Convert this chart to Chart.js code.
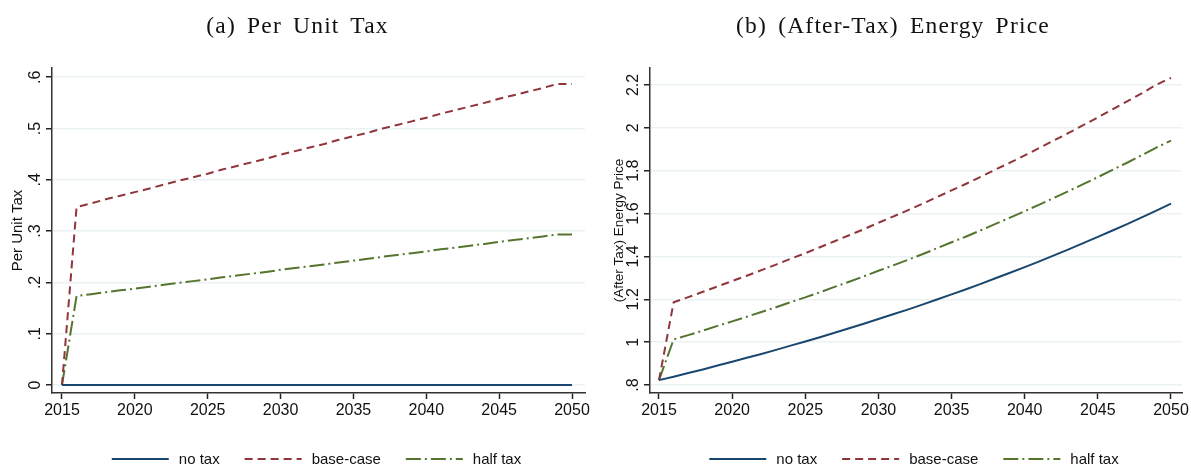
<!DOCTYPE html>
<html>
<head>
<meta charset="utf-8">
<script src="https://cdn.jsdelivr.net/npm/chart.js@4.4.1/dist/chart.umd.min.js"></script>
<style>
body{margin:0;background:#fff;width:1191px;height:468px;overflow:hidden;position:relative}
.panel{position:absolute;top:0;height:468px}
.title{position:absolute;top:12px;left:0;right:0;text-align:center;font-family:"Liberation Serif","DejaVu Serif",serif;font-size:23.5px;letter-spacing:1.2px;word-spacing:4px;color:#111;white-space:nowrap}
</style>
</head>
<body>
<div class="panel" style="left:0;width:595px"><canvas id="taxChart" width="595" height="468"></canvas><div class="title">(a) Per Unit Tax</div></div>
<div class="panel" style="left:595px;width:596px"><canvas id="priceChart" width="596" height="468"></canvas><div class="title">(b) (After-Tax) Energy Price</div></div>
<script>
// years on the x axis
const years = [2015,2016,2017,2018,2019,2020,2021,2022,2023,2024,2025,2026,2027,2028,2029,2030,2031,2032,2033,2034,2035,2036,2037,2038,2039,2040,2041,2042,2043,2044,2045,2046,2047,2048,2049,2050];
const seriesNames = ['no tax', 'base-case', 'half tax'];

// (a) per unit tax
const taxNone = years.map(() => 0);
const taxBase = [0,.347,.354,.362,.369,.376,.383,.391,.398,.405,.412,.420,.427,.434,.441,.449,.456,.463,.470,.478,.485,.492,.500,.507,.514,.521,.529,.536,.543,.550,.558,.565,.572,.579,.587,.587];
const taxHalf = [0,.1735,.177,.181,.1845,.188,.1915,.1955,.199,.2025,.206,.210,.2135,.217,.2205,.2245,.228,.2315,.235,.239,.2425,.246,.250,.2535,.257,.2605,.2645,.268,.2715,.275,.279,.2825,.286,.2895,.2935,.2935];

// (b) after-tax energy price
const priceNone = [.823,.839,.856,.873,.891,.909,.927,.945,.964,.984,1.003,1.023,1.044,1.065,1.086,1.108,1.130,1.152,1.175,1.199,1.223,1.247,1.272,1.298,1.324,1.350,1.377,1.405,1.433,1.462,1.491,1.521,1.551,1.582,1.614,1.646];
const priceBase = [.823,1.186,1.210,1.235,1.260,1.285,1.310,1.336,1.362,1.389,1.415,1.443,1.471,1.499,1.527,1.557,1.586,1.615,1.645,1.677,1.708,1.739,1.772,1.805,1.838,1.871,1.906,1.941,1.976,2.012,2.049,2.086,2.123,2.161,2.201,2.233];
const priceHalf = [.823,1.013,1.033,1.054,1.076,1.097,1.119,1.141,1.163,1.187,1.209,1.233,1.258,1.282,1.307,1.333,1.358,1.384,1.410,1.438,1.466,1.493,1.522,1.552,1.581,1.611,1.642,1.673,1.705,1.737,1.770,1.804,1.837,1.872,1.908,1.940];

// ticks
const yearTicks = [2015,2020,2025,2030,2035,2040,2045,2050];
const taxTicks = [0,.1,.2,.3,.4,.5,.6];
const taxTickLabels = ['0','.1','.2','.3','.4','.5','.6'];
const priceTicks = [.8,1,1.2,1.4,1.6,1.8,2,2.2];
const priceTickLabels = ['.8','1','1.2','1.4','1.6','1.8','2','2.2'];

const colors = ['#1a476f', '#90353b', '#55752f'];
const dashes = [[], [8, 5], [15, 4, 2, 4]];
const sans = '"Liberation Sans", Arial, sans-serif';

// rotated y tick labels + stata-style legend under the plot
const extras = {
  id: 'extras',
  afterDraw(chart, args, opts) {
    const ctx = chart.ctx, ys = chart.scales.y, a = chart.chartArea;
    ctx.save();
    ctx.fillStyle = '#111';
    ctx.font = '16px ' + sans;
    ctx.textAlign = 'center';
    ctx.textBaseline = 'middle';
    opts.ticks.forEach((v, i) => {
      ctx.save();
      ctx.translate(a.left - 16, ys.getPixelForValue(v));
      ctx.rotate(-Math.PI / 2);
      ctx.fillText(opts.labels[i], 0, 0);
      ctx.restore();
    });

    ctx.font = '15px ' + sans;
    ctx.textAlign = 'left';
    const sw = 57, gap = 10, between = 25;
    const ds = chart.data.datasets;
    const widths = ds.map(d => sw + gap + ctx.measureText(d.label).width);
    const total = widths.reduce((s, w) => s + w, 0) + between * (ds.length - 1);
    let x = (a.left + a.right) / 2 - total / 2 - 2;
    const ly = 460;
    ds.forEach((d, i) => {
      ctx.strokeStyle = d.borderColor;
      ctx.lineWidth = 2;
      ctx.setLineDash(d.borderDash || []);
      ctx.beginPath();
      ctx.moveTo(x, ly - 1);
      ctx.lineTo(x + sw, ly - 1);
      ctx.stroke();
      ctx.setLineDash([]);
      ctx.fillStyle = '#111';
      ctx.fillText(d.label, x + sw + gap, ly);
      x += widths[i] + between;
    });
    ctx.restore();
  }
};

function makeChart(id, series, yTicks, yLabels, yMin, yMax, xMin, xMax, yTitle, titleSize, yWidth, titlePad, padRight) {
  const ctx = document.getElementById(id).getContext('2d');
  return new Chart(ctx, {
    type: 'line',
    data: {
      datasets: series.map((vals, i) => ({
        label: seriesNames[i],
        data: years.map((yr, j) => ({x: yr, y: vals[j]})),
        borderColor: colors[i],
        borderDash: dashes[i],
        borderWidth: 2,
        pointRadius: 0,
        fill: false,
        tension: 0
      }))
    },
    options: {
      responsive: false,
      animation: false,
      events: [],
      layout: {padding: {left: 0, right: padRight, top: 68, bottom: 45}},
      plugins: {
        legend: {display: false},
        tooltip: {enabled: false},
        extras: {ticks: yTicks, labels: yLabels}
      },
      scales: {
        x: {
          type: 'linear',
          min: xMin,
          max: xMax,
          afterBuildTicks: s => { s.ticks = yearTicks.map(v => ({value: v})); },
          afterFit: s => { s.height = 30; },
          grid: {drawOnChartArea: false, drawTicks: true, tickLength: 6, tickColor: '#222', tickWidth: 1.5},
          border: {color: '#333', width: 1.5},
          ticks: {
            color: '#111',
            font: {family: sans, size: 16},
            padding: 2,
            maxRotation: 0,
            callback: v => String(v)
          }
        },
        y: {
          min: yMin,
          max: yMax,
          afterBuildTicks: s => { s.ticks = yTicks.map(v => ({value: v})); },
          afterFit: s => { s.width = yWidth; },
          grid: {color: '#eaf2f3', lineWidth: 1.5, drawTicks: true, tickLength: 6, tickColor: '#222', tickWidth: 1.5},
          border: {color: '#333', width: 1.5},
          ticks: {display: false},
          title: {
            display: true,
            text: yTitle,
            color: '#111',
            font: {family: sans, size: titleSize},
            padding: {top: titlePad, bottom: 0}
          }
        }
      }
    },
    plugins: [extras]
  });
}

makeChart('taxChart', [taxNone, taxBase, taxHalf], taxTicks, taxTickLabels,
  -0.0156, 0.618, 2014.314, 2050.892, 'Per Unit Tax', 15, 52, 9, 10);
makeChart('priceChart', [priceNone, priceBase, priceHalf], priceTicks, priceTickLabels,
  0.763, 2.279, 2014.385, 2050.752, '(After Tax) Energy Price', 13.5, 55, 16, 9);
</script>
</body>
</html>
